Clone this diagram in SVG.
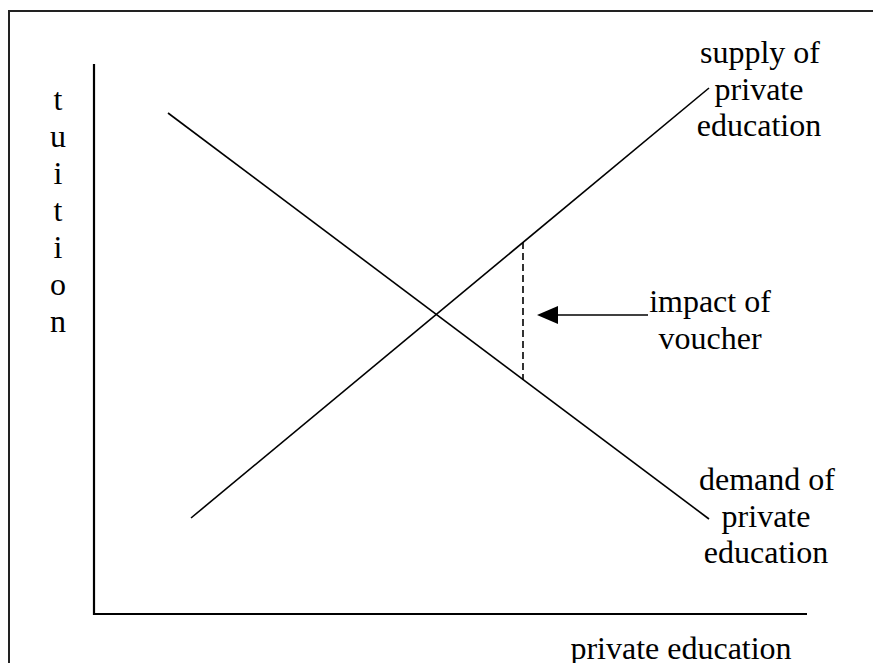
<svg xmlns="http://www.w3.org/2000/svg" width="873" height="663" viewBox="0 0 873 663">
<defs>
<style>
text{font-family:"Liberation Serif","Times New Roman",serif;font-size:32px;fill:#000;text-anchor:middle}
.ln{stroke:#000;stroke-width:1.6;fill:none}
.ax{stroke:#000;stroke-width:2.2;fill:none}
</style>
<marker id="ah" markerWidth="21" markerHeight="18" refX="0" refY="9" orient="auto" markerUnits="userSpaceOnUse">
<path d="M21,0 L0,9 L21,18 Z" fill="#000"/>
</marker>
</defs>
<rect x="0" y="0" width="873" height="663" fill="#fff"/>
<rect x="9" y="11" width="880" height="670" fill="none" stroke="#222" stroke-width="2"/>
<g id="axes">
<path class="ax" d="M94,64 L94,614 L807,614"/>
</g>
<g id="connectors">
<line class="ln" x1="168" y1="113" x2="709" y2="519"/>
<line class="ln" x1="191" y1="518" x2="709" y2="88"/>
<line class="ln" x1="523" y1="242" x2="523" y2="380" stroke-dasharray="7,4"/>
<line class="ln" x1="648" y1="315" x2="558" y2="315"/>
<path d="M537,315 L558,306 L558,324 Z" fill="#000"/>
</g>
<g id="ylabel">
<text x="58" y="110">t</text>
<text x="58" y="147">u</text>
<text x="58" y="184">i</text>
<text x="58" y="221">t</text>
<text x="58" y="258">i</text>
<text x="58" y="295">o</text>
<text x="58" y="332">n</text>
</g>
<g id="xlabel"><text x="681" y="659">private education</text></g>
<g id="supply"><text x="760" y="63">supply of</text><text x="759" y="100">private</text><text x="759" y="136">education</text></g>
<g id="demand"><text x="767" y="490">demand of</text><text x="766" y="527">private</text><text x="766" y="563">education</text></g>
<g id="voucher"><text x="710" y="312">impact of</text><text x="710" y="349">voucher</text></g>
</svg>
